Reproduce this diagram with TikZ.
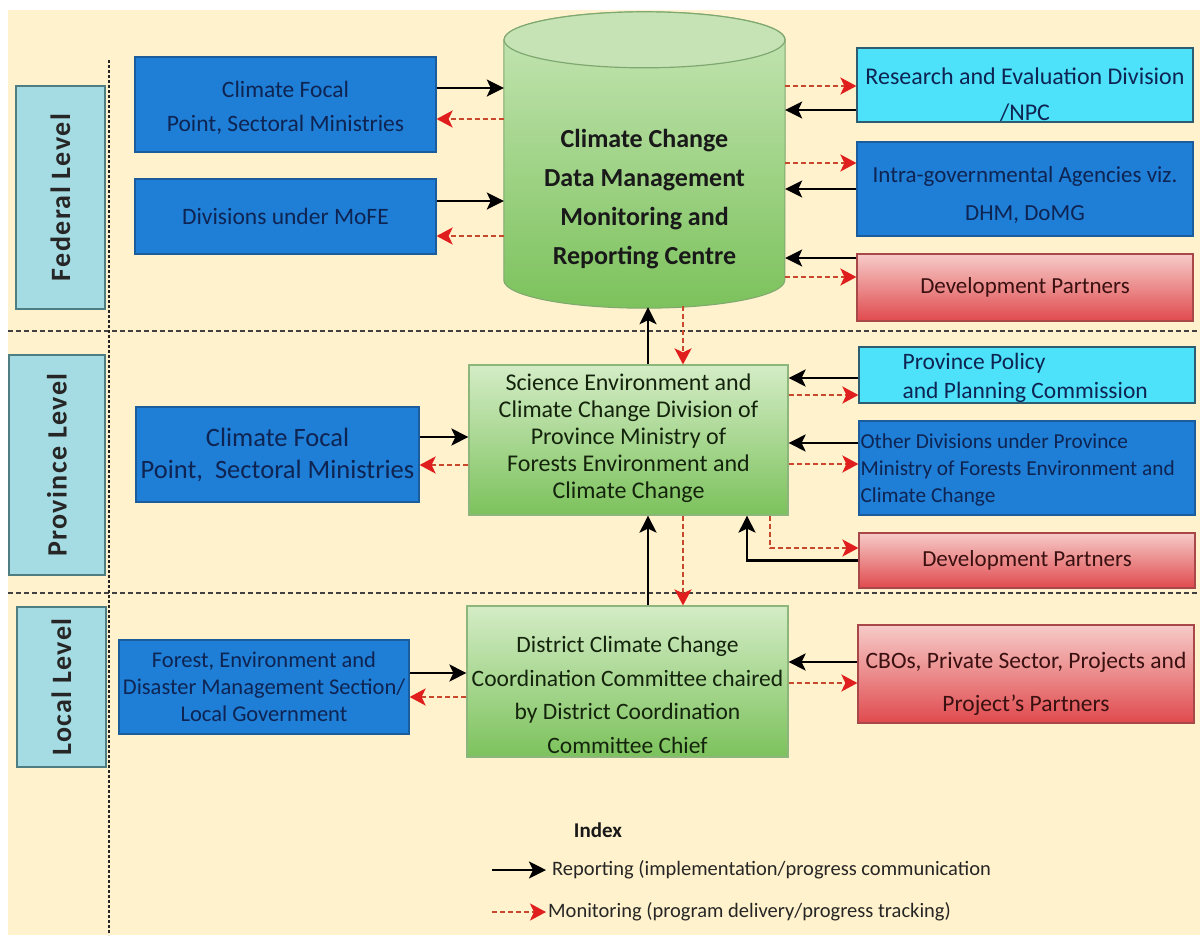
\documentclass[tikz,border=0pt]{standalone}
\usepackage{fontspec}
\setmainfont{Carlito}
\usetikzlibrary{arrows.meta,calc}

\definecolor{cream}{HTML}{FFF2CC}
\definecolor{lvlfill}{HTML}{A5DCE3}
\definecolor{lvldraw}{HTML}{4E7E82}
\definecolor{bluefill}{HTML}{1F7ED6}
\definecolor{bluedraw}{HTML}{1A5C9C}
\definecolor{bluetext}{HTML}{0E2452}
\definecolor{cyanfill}{HTML}{4DE2FA}
\definecolor{cyandraw}{HTML}{2E5C70}
\definecolor{redtop}{HTML}{F6CBC8}
\definecolor{redbot}{HTML}{E04A4E}
\definecolor{reddraw}{HTML}{A84848}
\definecolor{redtext}{HTML}{3A1010}
\definecolor{greentop}{HTML}{D4ECC6}
\definecolor{greenbot}{HTML}{7CC25C}
\definecolor{greendraw}{HTML}{8DB67C}
\definecolor{greentext}{HTML}{14240C}
\definecolor{capfill}{HTML}{C6E3B6}
\definecolor{capdraw}{HTML}{7FA870}
\definecolor{monline}{HTML}{C8482E}
\definecolor{monhead}{HTML}{E01E1E}

\tikzset{
  x=1pt, y=-1pt,
  box/.style={rectangle, inner sep=0pt, line width=1.2pt},
  level/.style={box, fill=lvlfill, draw=lvldraw, font=\fontsize{28}{30}\selectfont\bfseries\addfontfeatures{LetterSpace=5}, text=black!85},
  bluebox/.style={box, fill=bluefill, draw=bluedraw, text=bluetext, align=center},
  cyanbox/.style={box, fill=cyanfill, draw=cyandraw, text=bluetext, align=center},
  redbox/.style={box, top color=redtop, bottom color=redbot, draw=reddraw, text=redtext, align=center},
  greenbox/.style={box, top color=greentop, bottom color=greenbot, draw=greendraw, text=greentext, align=center},
  txt/.style={inner sep=0pt, align=center},
  rep/.style={draw=black, line width=2.6pt, -{Stealth[length=17pt,width=17pt,inset=4pt]}},
  mon/.style={draw=monline, line width=2.3pt, dash pattern=on 5pt off 3pt,
    -{Stealth[length=16pt,width=17pt,inset=4pt,color=monhead]}},
  divider/.style={draw=black!75, line width=1.8pt, dash pattern=on 5pt off 3pt},
}

\begin{document}
\begin{tikzpicture}
% canvas and background
\useasboundingbox (0,0) rectangle (1200,935);
\fill[white] (0,0) rectangle (1200,935);
\fill[cream] (8,10) rectangle (1200,935);

% level dividers
\draw[divider] (8,331) -- (1200,331);
\draw[divider] (8,593) -- (1200,593);
\draw[draw=black!85, line width=2pt, dash pattern=on 3pt off 2pt] (109,60) -- (109,935);

% level labels
\node[level, minimum width=89, minimum height=223] (fedlvl) at (60.5,197.5) {\rotatebox{90}{Federal Level}};
\node[level, minimum width=96, minimum height=220] (provlvl) at (57,465) {\rotatebox{90}{Province Level}};
\node[level, minimum width=89, minimum height=160] (loclvl) at (61.5,687) {\rotatebox{90}{Local Level}};

% ---------- federal level ----------
\node[inner sep=0pt, minimum width=281, minimum height=296] (cyl) at (644.5,160) {};
\shade[top color=greentop!85!greenbot, bottom color=greenbot, draw=capdraw, line width=1pt]
  ($(cyl.north west)+(0,28)$) -- ($(cyl.south west)+(0,-28)$)
  arc[start angle=180, end angle=360, x radius=140.5pt, y radius=28pt]
  -- ($(cyl.north east)+(0,28)$)
  arc[start angle=0, end angle=180, x radius=140.5pt, y radius=28pt] -- cycle;
\draw[fill=capfill, draw=capdraw, line width=1.2pt] ($(cyl.north)+(0,28)$) ellipse[x radius=140.5pt, y radius=28pt];
\node[txt, text=black!90, font=\fontsize{26}{39}\selectfont\bfseries] (cyltxt) at (644.5,199)
  {Climate Change\\Data Management\\Monitoring and\\Reporting Centre};

\node[bluebox, minimum width=301, minimum height=95] (fedfp) at (285.5,104.5) {};
\node[txt, text=bluetext, font=\fontsize{23.5}{34}\selectfont] (fedfptxt) at (285.5,108)
  {Climate Focal\\Point, Sectoral Ministries};
\node[bluebox, minimum width=301, minimum height=75, font=\fontsize{23.5}{30}\selectfont] (mofe) at (285.5,216.5) {Divisions under MoFE};

\node[cyanbox, minimum width=336, minimum height=74] (research) at (1025,85) {};
\node[txt, text=bluetext, font=\fontsize{24}{36}\selectfont] (researchtxt) at (1025,95)
  {Research and Evaluation Division\\/NPC};
\node[bluebox, minimum width=336, minimum height=94] (intra) at (1025,189) {};
\node[txt, text=bluetext, font=\fontsize{23}{38}\selectfont] (intratxt) at (1025,195)
  {Intra-governmental Agencies viz.\\DHM, DoMG};
\node[redbox, minimum width=336, minimum height=67, font=\fontsize{23}{30}\selectfont] (feddp) at (1025,287.5) {Development Partners};

% federal connectors
\draw[rep] ([yshift=16.5pt]fedfp.east) -- ([yshift=16.5pt]fedfp.east -| cyl.west);
\draw[mon] ([yshift=-14.5pt]fedfp.east -| cyl.west) -- ([yshift=-14.5pt]fedfp.east);
\draw[rep] ([yshift=15.5pt]mofe.east) -- ([yshift=15.5pt]mofe.east -| cyl.west);
\draw[mon] ([yshift=-19.5pt]mofe.east -| cyl.west) -- ([yshift=-19.5pt]mofe.east);

\draw[mon] ([yshift=-1pt]research.west -| cyl.east) -- ([yshift=-1pt]research.west);
\draw[rep] ([yshift=-25pt]research.west) -- ([yshift=-25pt]research.west -| cyl.east);
\draw[mon] ([yshift=26pt]intra.west -| cyl.east) -- ([yshift=26pt]intra.west);
\draw[rep] (intra.west) -- (intra.west -| cyl.east);
\draw[rep] ([yshift=29.5pt]feddp.west) -- ([yshift=29.5pt]feddp.west -| cyl.east);
\draw[mon] ([yshift=10.5pt]feddp.west -| cyl.east) -- ([yshift=10.5pt]feddp.west);

% ---------- province level ----------
\node[greenbox, minimum width=319, minimum height=150] (provc) at (628.5,440) {};
\node[txt, text=greentext, font=\fontsize{24}{27}\selectfont] (provctxt) at (628.5,438.5)
  {Science Environment and\\Climate Change Division of\\Province Ministry of\\Forests Environment and\\Climate Change};

\node[bluebox, minimum width=283, minimum height=95, font=\fontsize{26.5}{32}\selectfont] (provfp) at (277.5,454.5)
  {Climate Focal\\Point,\ \ Sectoral Ministries};

\node[cyanbox, minimum width=336, minimum height=56] (policy) at (1027,375) {};
\node[txt, align=left, anchor=west, text=bluetext, font=\fontsize{23.5}{29}\selectfont] (policytxt) at ([xshift=44pt,yshift=-2.5pt]policy.west)
  {Province Policy\\and Planning Commission};
\node[bluebox, minimum width=336, minimum height=94] (otherdiv) at (1027,468) {};
\node[txt, align=left, anchor=west, text=bluetext, font=\fontsize{21.3}{27}\selectfont] (otherdivtxt) at ([xshift=2pt,yshift=-2pt]otherdiv.west)
  {Other Divisions under Province\\Ministry of Forests Environment and\\Climate Change};
\node[redbox, minimum width=336, minimum height=55, font=\fontsize{23}{30}\selectfont] (provdp) at (1027,560.5) {Development Partners};

% province connectors
\draw[rep] ([yshift=17.5pt]provfp.east) -- ([yshift=17.5pt]provfp.east -| provc.west);
\draw[mon] ([yshift=-10.5pt]provfp.east -| provc.west) -- ([yshift=-10.5pt]provfp.east);
\draw[rep] ([yshift=-3pt]policy.west) -- ([yshift=-3pt]policy.west -| provc.east);
\draw[mon] ([yshift=-20pt]policy.west -| provc.east) -- ([yshift=-20pt]policy.west);
\draw[rep] ([yshift=25pt]otherdiv.west) -- ([yshift=25pt]otherdiv.west -| provc.east);
\draw[mon] ([yshift=4pt]otherdiv.west -| provc.east) -- ([yshift=4pt]otherdiv.west);
\draw[rep] (provdp.west) -| ([xshift=118.5pt]provc.south);
\draw[mon] ([xshift=141.5pt]provc.south) |- ([yshift=12.5pt]provdp.west);

% federal <-> province
\draw[rep] ([xshift=19.5pt]provc.north) -- ($([xshift=19.5pt]provc.north |- cyl.south)+(0,-1)$);
\draw[mon] ($([xshift=54.5pt]provc.north |- cyl.south)+(0,-2)$) -- ([xshift=54.5pt]provc.north);

% ---------- local level ----------
\node[greenbox, minimum width=321, minimum height=151] (district) at (627.5,681.5) {};
\node[txt, text=greentext, font=\fontsize{23.5}{33.5}\selectfont] (districttxt) at (627.5,695)
  {District Climate Change\\Coordination Committee chaired\\by District Coordination\\Committee Chief};
\node[bluebox, minimum width=290, minimum height=94, font=\fontsize{22.5}{27}\selectfont] (forest) at (264,687)
  {Forest, Environment and\\Disaster Management Section/\\Local Government};
\node[redbox, minimum width=336, minimum height=98] (cbos) at (1026,674) {};
\node[txt, text=redtext, font=\fontsize{23.5}{43}\selectfont] (cbostxt) at (1026,683.5)
  {CBOs, Private Sector, Projects and\\Project’s Partners};

% local connectors
\draw[rep] ([yshift=14pt]forest.east) -- ([yshift=14pt]forest.east -| district.west);
\draw[mon] ([yshift=-10pt]forest.east -| district.west) -- ([yshift=-10pt]forest.east);
\draw[rep] ([yshift=12pt]cbos.west) -- ([yshift=12pt]cbos.west -| district.east);
\draw[mon] ([yshift=-9pt]cbos.west -| district.east) -- ([yshift=-9pt]cbos.west);

% province <-> local
\draw[rep] ([xshift=20.5pt]district.north) -- ([xshift=20.5pt]district.north |- provc.south);
\draw[mon] ([xshift=55.5pt]district.north |- provc.south) -- ([xshift=55.5pt]district.north);

% ---------- index ----------
\node[txt, font=\fontsize{21}{24}\selectfont\bfseries, text=black!90] (index) at (598,830) {Index};
\coordinate (repa) at (492,870);
\coordinate (repb) at (546,870);
\coordinate (mona) at (492,912);
\coordinate (monb) at (546,912);
\draw[rep] (repa) -- (repb);
\draw[mon] (mona) -- (monb);
\node[txt, anchor=west, font=\fontsize{20.5}{24}\selectfont, text=black!85] (replbl) at ([xshift=6pt]repb) {Reporting (implementation/progress communication};
\node[txt, anchor=west, font=\fontsize{20.5}{24}\selectfont, text=black!85] (monlbl) at ([xshift=2pt]monb) {Monitoring (program delivery/progress tracking)};
\end{tikzpicture}
\end{document}
